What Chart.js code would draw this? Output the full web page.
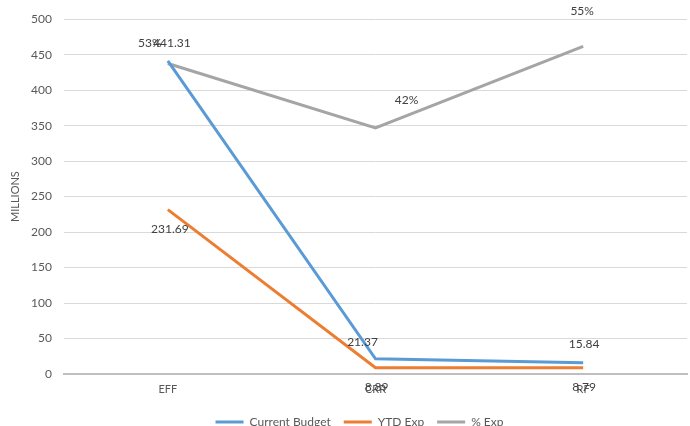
<!DOCTYPE html>
<html>
<head>
<meta charset="utf-8">
<script src="https://cdn.jsdelivr.net/npm/chart.js@4.4.1/dist/chart.umd.min.js"></script>
<style>
  html, body { margin: 0; padding: 0; background: #fff; overflow: hidden; }
  #wrap { width: 690px; height: 438px; position: relative; }
</style>
</head>
<body>
<div id="wrap"><canvas id="c"></canvas></div>
<script>
// Budget figures (millions) per fund group
const categories = ['EFF', 'CRR', 'RF'];
const currentBudget = [441.31, 21.37, 15.84];
const ytdExp = [231.69, 8.89, 8.79];
const pctExp = [0.5251, 0.416, 0.554];
const yTicks = [0, 50, 100, 150, 200, 250, 300, 350, 400, 450, 500];

const textColor = '#595959';
const fontFamily = 'Lato, "Liberation Sans", sans-serif';

// Label placement relative to each point: [dx, dy]
const labelOffsets = [
  [[4, -18], [-13, -17], [1, -19]],
  [[2, 20], [1, 19], [1, 19]],
  [[-18, -20], [31, -28], [-1, -35]]
];

const valueLabels = {
  id: 'valueLabels',
  afterDatasetsDraw(chart) {
    const ctx = chart.ctx;
    ctx.save();
    ctx.font = '12px ' + fontFamily;
    ctx.fillStyle = '#404040';
    ctx.textAlign = 'center';
    ctx.textBaseline = 'middle';
    chart.data.datasets.forEach((ds, di) => {
      const meta = chart.getDatasetMeta(di);
      meta.data.forEach((pt, i) => {
        const v = ds.data[i];
        const txt = ds.yAxisID === 'y1' ? Math.round(v * 100) + '%' : v.toFixed(2);
        const off = labelOffsets[di][i];
        ctx.fillText(txt, pt.x + off[0], pt.y + off[1]);
      });
    });
    ctx.restore();
  }
};

// Nudge the legend a little to the right of the canvas centre
const legendShift = {
  id: 'legendShift',
  afterLayout(chart) {
    const lg = chart.legend;
    if (!lg) return;
    lg.left += 16;
    lg.right += 16;
  }
};

new Chart(document.getElementById('c'), {
  type: 'line',
  data: {
    labels: categories,
    datasets: [
      { label: 'Current Budget', data: currentBudget, borderColor: '#5b9bd5', backgroundColor: '#5b9bd5', borderWidth: 3, pointRadius: 0, yAxisID: 'y' },
      { label: 'YTD Exp', data: ytdExp, borderColor: '#ed7d31', backgroundColor: '#ed7d31', borderWidth: 3, pointRadius: 0, yAxisID: 'y' },
      { label: '% Exp', data: pctExp, borderColor: '#a5a5a5', backgroundColor: '#a5a5a5', borderWidth: 3, pointRadius: 0, yAxisID: 'y1' }
    ]
  },
  options: {
    responsive: true,
    maintainAspectRatio: false,
    animation: false,
    layout: { padding: { top: 17, right: 3, left: 0, bottom: 0 } },
    plugins: {
      tooltip: { enabled: false },
      legend: {
        position: 'bottom',
        labels: {
          color: textColor,
          font: { size: 12, family: fontFamily },
          boxWidth: 28,
          boxHeight: 3,
          padding: 13,
          generateLabels(chart) {
            const items = Chart.defaults.plugins.legend.labels.generateLabels(chart);
            items.forEach(it => { it.fillStyle = it.strokeStyle; it.lineWidth = 0; });
            return items;
          }
        }
      }
    },
    scales: {
      x: {
        offset: true,
        grid: { display: false, drawTicks: false },
        border: { display: true, color: '#bfbfbf', width: 2 },
        ticks: { color: textColor, font: { size: 11, family: fontFamily }, padding: 9 },
        afterFit(s) { s.height = 29; }
      },
      y: {
        min: 0,
        max: 500,
        afterBuildTicks(s) { s.ticks = yTicks.map(v => ({ value: v })); },
        grid: { color: '#d9d9d9', lineWidth: 1, drawTicks: false },
        border: { display: false },
        ticks: { color: textColor, font: { size: 12, family: fontFamily }, padding: 12 },
        title: { display: true, text: 'MILLIONS', color: textColor, font: { size: 11, family: fontFamily }, padding: { top: 9, bottom: 0 } },
        afterFit(s) { s.width = 64; }
      },
      y1: {
        display: false,
        min: 0,
        max: 0.6
      }
    }
  },
  plugins: [valueLabels, legendShift]
});
</script>
</body>
</html>
